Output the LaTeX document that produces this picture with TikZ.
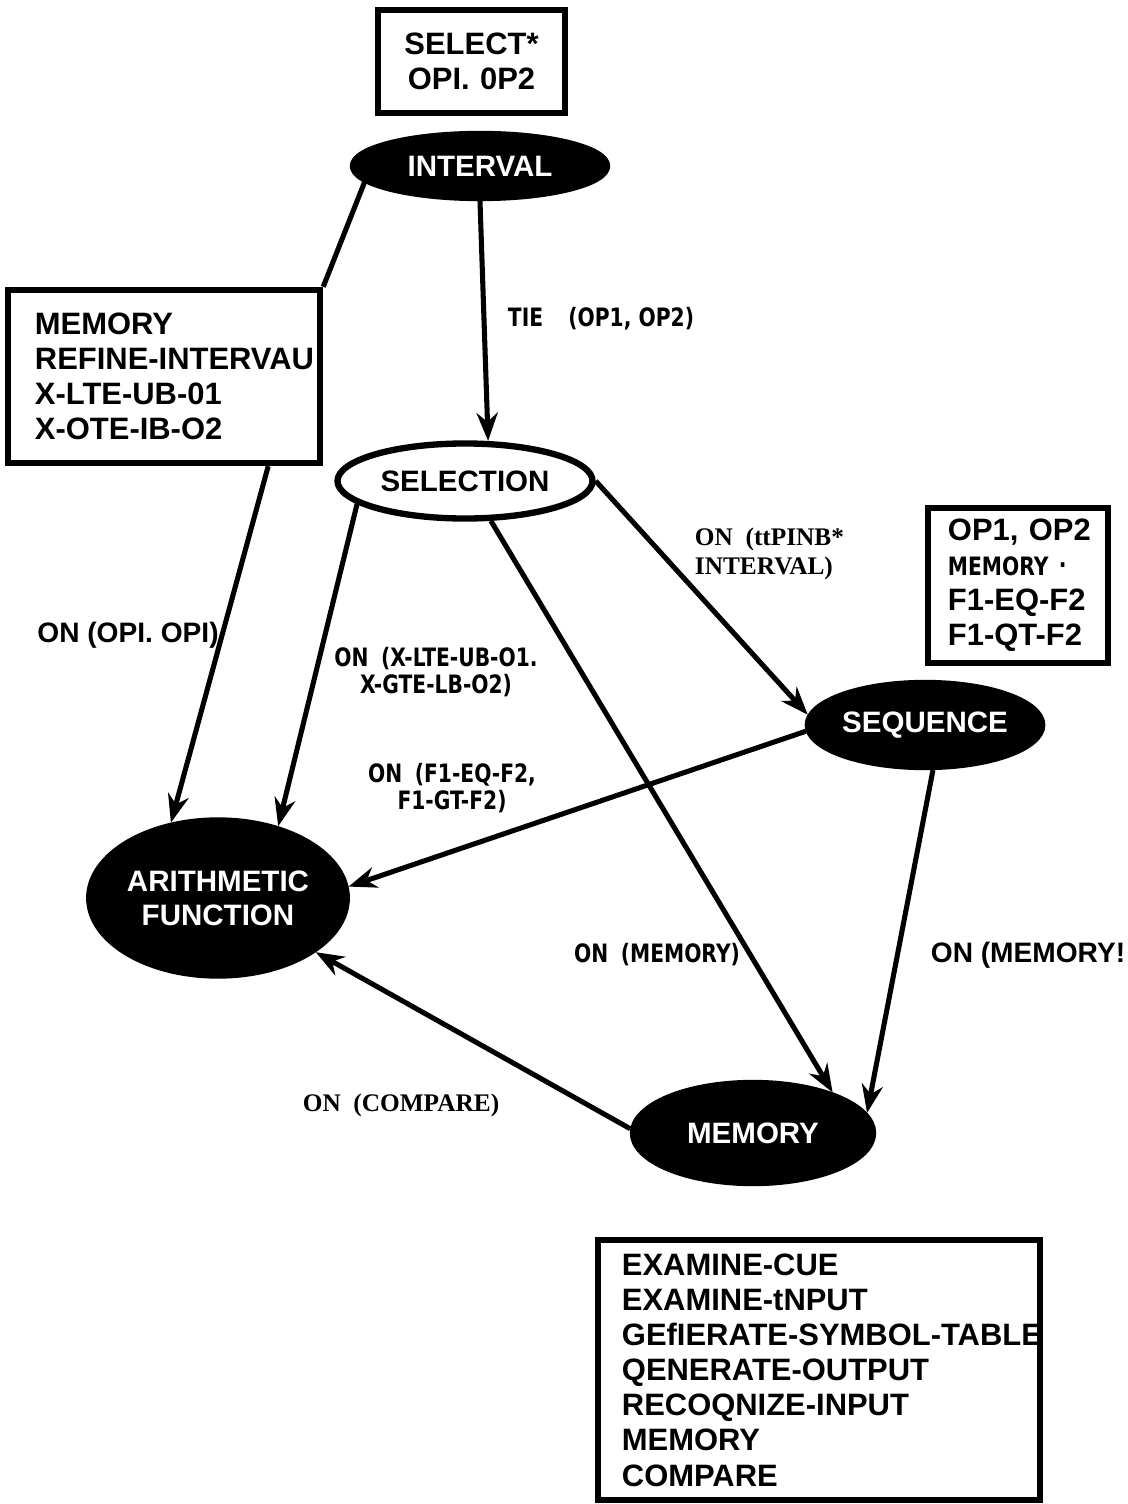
\documentclass[tikz,border=0pt]{standalone}
\usepackage{fontspec}
\setmainfont{Liberation Sans}
\newfontfamily\serifbold{Liberation Serif}
\newfontfamily\blockfont{DejaVu Sans}[FakeStretch=0.8]
\usetikzlibrary{shapes.geometric,arrows.meta}
\newcommand\boxtext{\fontsize{22}{25}\selectfont\bfseries\hyphenpenalty=10000 \exhyphenpenalty=10000 }
\begin{document}
\begin{tikzpicture}[x=0.025cm,y=-0.025cm,
    listbox/.style={draw,line width=4.5pt,align=left,font=\boxtext,inner ysep=0pt},
    blob/.style={ellipse,draw,line width=4.5pt,fill=black,text=white,inner sep=0pt,
        align=center,font=\fontsize{21}{24}\selectfont\bfseries},
    flow/.style={line width=3.6pt,-{Stealth[length=20pt,width=15pt]}},
    link/.style={line width=3.6pt},
    blocklabel/.style={font=\blockfont\fontsize{18}{19}\selectfont\bfseries,align=center},
    sanslabel/.style={font=\fontsize{20}{24}\selectfont\bfseries},
    printlabel/.style={font=\serifbold\fontsize{18}{21}\selectfont\bfseries,align=left}]
    \useasboundingbox (0,0) rectangle (1128,1504);

    % Marking box SELECT
    \node [listbox,align=center,text width=4.075cm,inner xsep=0.3cm,minimum height=2.575cm] (select) at (471.5,61.5) {SELECT*\\OPI. 0P2};%

    % Marking box of the interval skill
    \node [listbox,text width=6.45cm,inner xsep=0.675cm,minimum height=4.325cm] (memlist) at (164,376.5) {MEMORY\\REFINE-INTERVAU\\X-LTE-UB-01\\X-OTE-IB-O2};%

    % Marking box of the sequence skill
    \node [listbox,text width=3.5cm,inner xsep=0.5cm,minimum height=3.875cm] (seqlist) at (1018,585.5) {OP1,~OP2\\{\blockfont\fontsize{18}{20}\selectfont MEMORY \raisebox{0.6ex}{.}}\\F1-EQ-F2\\F1-QT-F2};%

    % Marking box of the memory skill
    \node [listbox,text width=9.85cm,inner xsep=0.6cm,minimum height=6.5cm] (memorylist) at (819,1370) {EXAMINE-CUE\\EXAMINE-tNPUT\\GEfIERATE-SYMBOL-TABLE\\QENERATE-OUTPUT\\RECOQNIZE-INPUT\\MEMORY\\COMPARE};%

    % Marking skill INTERVAL
    \node [blob,minimum width=6.35cm,minimum height=1.6cm] (interval) at (480,166) {INTERVAL};%

    % Marking skill SELECTION
    \node [blob,fill=white,text=black,minimum width=6.375cm,minimum height=1.875cm] (selection) at (465,481) {SELECTION};%

    % Marking skill SEQUENCE
    \node [blob,minimum width=5.625cm,minimum height=2.1cm] (sequence) at (925,725) {SEQUENCE};%

    % Marking skill ARITHMETIC FUNCTION
    \node [blob,minimum width=6.425cm,minimum height=3.875cm] (arith) at (218,898) {ARITHMETIC\\FUNCTION};%

    % Marking skill MEMORY
    \node [blob,minimum width=6cm,minimum height=2.5cm] (memory) at (753,1133) {MEMORY};%

    % Drawing link INTERVAL box
    \draw [link] (interval.188) -- (memlist.north east);%
    \draw [flow] ([xshift=-1.375cm]memlist.south east) -- (arith.122);%

    % Drawing link INTERVAL SELECTION
    \draw [flow] (interval.south) -- (selection.60);%

    % Drawing link SELECTION ARITHMETIC
    \draw [flow] (selection.192) -- (arith.50);%

    % Drawing link SELECTION SEQUENCE
    \draw [flow] (selection.0) -- (sequence.175);%

    % Drawing link SELECTION MEMORY
    \draw [flow] (selection.-57) -- (memory.27);%

    % Drawing link SEQUENCE ARITHMETIC
    \draw [flow] (sequence.183) -- (arith.5);%

    % Drawing link SEQUENCE MEMORY
    \draw [flow] (sequence.-80) -- (memory.10);%

    % Drawing link MEMORY ARITHMETIC
    \draw [flow] (memory.178) -- (arith.-29);%

    % Marking link labels
    \node [blocklabel,anchor=west] (tielabel) at (503,319) {TIE\quad (OP1, OP2)};%
    \node [sanslabel] (opilabel) at (128,635) {ON (OPI. OPI)};%
    \node [blocklabel] (ltelabel) at (436,672) {ON\enspace (X-LTE-UB-O1.\\X-GTE-LB-O2)};%
    \node [printlabel,anchor=west] (refinelabel) at (690,554) {ON\enspace(ttPINB*\\INTERVAL)};%
    \node [blocklabel] (eqlabel) at (452,788) {ON\enspace (F1-EQ-F2,\\F1-GT-F2)};%
    \node [blocklabel] (selmemlabel) at (657,955) {ON\enspace (MEMORY)};%
    \node [sanslabel] (seqmemlabel) at (1028,955) {ON (MEMORY!};%
    \node [printlabel] (comparelabel) at (401,1105) {ON\enspace(COMPARE)};%
\end{tikzpicture}
\end{document}
